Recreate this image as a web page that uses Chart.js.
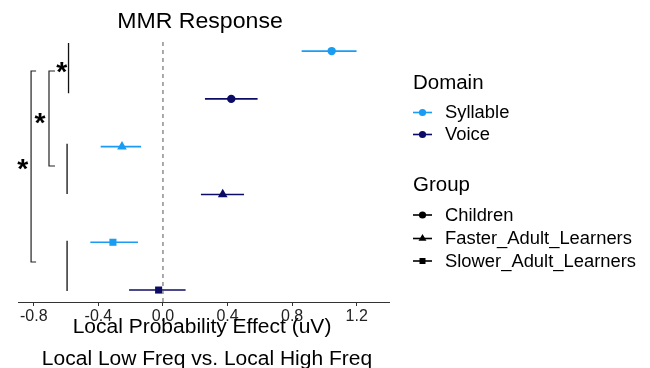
<!DOCTYPE html>
<html>
<head>
<meta charset="utf-8">
<script src="https://cdn.jsdelivr.net/npm/chart.js@4.4.1/dist/chart.umd.min.js"></script>
<style>
  html, body { margin: 0; padding: 0; background: #ffffff; }
  #wrap { width: 650px; height: 368px; position: relative; }
</style>
</head>
<body>
<div id="wrap"><canvas id="c" width="650" height="368"></canvas></div>
<script>
// ---------- data ----------
const groups = ['Children', 'Faster_Adult_Learners', 'Slower_Adult_Learners'];
const domains = ['Syllable', 'Voice'];
const groupShapes = ['circle', 'triangle', 'rect'];

const syllableEst = [1.045, -0.254, -0.310];
const syllableLo  = [0.859, -0.386, -0.450];
const syllableHi  = [1.199, -0.136, -0.155];
const syllableRow = [1, 3, 5];

const voiceEst = [0.423, 0.370, -0.027];
const voiceLo  = [0.260, 0.235, -0.210];
const voiceHi  = [0.586, 0.502, 0.140];
const voiceRow = [2, 4, 6];

const xTicks = [-0.8, -0.4, 0.0, 0.4, 0.8, 1.2];

// group marker lines (x, yFrom, yTo)
const groupLineX    = [-0.585, -0.594, -0.594];
const groupLineFrom = [0.83, 2.94, 4.97];
const groupLineTo   = [1.88, 3.99, 6.02];

// significance brackets (vertical x, tick end x, yFrom, yTo)
const bracketX    = [-0.706, -0.817];
const bracketTipX = [-0.669, -0.786];
const bracketFrom = [1.417, 1.417];
const bracketTo   = [3.404, 5.413];

// stars
const starLabels = ['*', '*', '*'];
const starX = [-0.627, -0.762, -0.869];
const starY = [1.33, 2.41, 3.37];

// ---------- styles ----------
const COL_SYL = '#1a9cf2';
const COL_VOI = '#0c0c66';
const FONT = "'Liberation Sans', Arial, Helvetica, sans-serif";
const STRETCH = 1.05;

const datasets = [];
// zero reference line
datasets.push({
  data: [{x: 0, y: 0.81}, {x: 0, y: 6.25}],
  showLine: true, borderColor: '#555555', borderWidth: 1, borderDash: [4, 4],
  pointRadius: 0, fill: false
});
// error bars
function addErr(lo, hi, row, col) {
  for (let i = 0; i < lo.length; i++) {
    datasets.push({
      data: [{x: lo[i], y: row[i]}, {x: hi[i], y: row[i]}],
      showLine: true, borderColor: col, borderWidth: 1.6, pointRadius: 0, fill: false
    });
  }
}
addErr(syllableLo, syllableHi, syllableRow, COL_SYL);
addErr(voiceLo, voiceHi, voiceRow, COL_VOI);
// group lines
for (let i = 0; i < groupLineX.length; i++) {
  datasets.push({
    data: [{x: groupLineX[i], y: groupLineFrom[i]}, {x: groupLineX[i], y: groupLineTo[i]}],
    showLine: true, borderColor: '#111111', borderWidth: 1.3, pointRadius: 0, fill: false
  });
}
// brackets
for (let i = 0; i < bracketX.length; i++) {
  datasets.push({
    data: [
      {x: bracketTipX[i], y: bracketFrom[i]},
      {x: bracketX[i], y: bracketFrom[i]},
      {x: bracketX[i], y: bracketTo[i]},
      {x: bracketTipX[i], y: bracketTo[i]}
    ],
    showLine: true, borderColor: '#222222', borderWidth: 1.2, pointRadius: 0, fill: false,
    borderJoinStyle: 'miter'
  });
}
// points
const radii = {circle: 4.2, triangle: 5.6, rect: 5};
function addPts(est, row, col) {
  datasets.push({
    data: est.map((v, i) => ({x: v, y: row[i]})),
    showLine: false,
    pointStyle: groupShapes.slice(),
    pointRadius: groupShapes.map(s => radii[s]),
    backgroundColor: col, borderColor: col, borderWidth: 0
  });
}
addPts(syllableEst, syllableRow, COL_SYL);
addPts(voiceEst, voiceRow, COL_VOI);

// ---------- text helpers ----------
function txt(ctx, s, x, y, font, align, base, color) {
  ctx.save();
  ctx.font = font;
  ctx.fillStyle = color || '#000';
  ctx.textAlign = align || 'left';
  ctx.textBaseline = base || 'alphabetic';
  ctx.translate(x, y);
  ctx.scale(STRETCH, 1);
  ctx.fillText(s, 0, 0);
  ctx.restore();
}
function shape(ctx, style, x, y, r, col) {
  ctx.save();
  ctx.fillStyle = col;
  ctx.beginPath();
  if (style === 'circle') {
    ctx.arc(x, y, r, 0, Math.PI * 2);
  } else if (style === 'triangle') {
    ctx.moveTo(x, y - r);
    ctx.lineTo(x + r * 0.866, y + r * 0.5);
    ctx.lineTo(x - r * 0.866, y + r * 0.5);
    ctx.closePath();
  } else {
    ctx.rect(x - r * 0.75, y - r * 0.75, r * 1.5, r * 1.5);
  }
  ctx.fill();
  ctx.restore();
}

const decor = {
  id: 'decor',
  afterDraw(chart) {
    const ctx = chart.ctx;
    const xs = chart.scales.x, ys = chart.scales.y;
    const ca = chart.chartArea;
    // title
    txt(ctx, 'MMR Response', 200, 27.5, '22px ' + FONT, 'center');
    // axis title
    txt(ctx, 'Local Probability Effect (uV)', 202, 333, '20px ' + FONT, 'center');
    txt(ctx, 'Local Low Freq vs. Local High Freq', 207, 365, '20px ' + FONT, 'center');
    // stars
    for (let i = 0; i < starLabels.length; i++) {
      const px = xs.getPixelForValue(starX[i]);
      const py = ys.getPixelForValue(starY[i]);
      txt(ctx, starLabels[i], px, py + 14, 'bold 27px ' + FONT, 'center');
    }
    // legend
    const lx = 413;
    txt(ctx, 'Domain', lx, 88.5, '19.5px ' + FONT, 'left');
    const domCols = [COL_SYL, COL_VOI];
    const domY = [112.5, 134.5];
    for (let i = 0; i < domains.length; i++) {
      ctx.save();
      ctx.strokeStyle = domCols[i]; ctx.lineWidth = 1.6;
      ctx.beginPath(); ctx.moveTo(lx, domY[i]); ctx.lineTo(lx + 19, domY[i]); ctx.stroke();
      ctx.restore();
      shape(ctx, 'circle', lx + 9.5, domY[i], 3.6, domCols[i]);
      txt(ctx, domains[i], 445, domY[i] + 1, '17.5px ' + FONT, 'left', 'middle');
    }
    txt(ctx, 'Group', lx, 190.5, '19.5px ' + FONT, 'left');
    const grpY = [215, 238.5, 261];
    const lr = {circle: 3.6, triangle: 4.6, rect: 4};
    for (let i = 0; i < groups.length; i++) {
      ctx.save();
      ctx.strokeStyle = '#000'; ctx.lineWidth = 1.6;
      ctx.beginPath(); ctx.moveTo(lx, grpY[i]); ctx.lineTo(lx + 19, grpY[i]); ctx.stroke();
      ctx.restore();
      shape(ctx, groupShapes[i], lx + 9.5, grpY[i], lr[groupShapes[i]], '#000');
      txt(ctx, groups[i], 445, grpY[i] + 1, '17.5px ' + FONT, 'left', 'middle');
    }
  }
};

new Chart(document.getElementById('c'), {
  type: 'scatter',
  data: { datasets },
  options: {
    responsive: false,
    animation: false,
    devicePixelRatio: 1,
    layout: { padding: { left: 18, right: 261, top: 42, bottom: 0 } },
    plugins: { legend: { display: false }, tooltip: { enabled: false }, title: { display: false } },
    scales: {
      x: {
        type: 'linear', min: -0.898, max: 1.40,
        afterBuildTicks: s => { s.ticks = xTicks.map(v => ({ value: v })); },
        afterFit: s => { s.height = 66; },
        ticks: {
          font: { size: 16, family: FONT }, color: '#222', padding: 1,
          callback: v => Number(v).toFixed(1)
        },
        grid: { drawOnChartArea: false, drawTicks: true, tickLength: 4, color: '#333', lineWidth: 1 },
        border: { display: true, color: '#333', width: 1 }
      },
      y: { type: 'linear', reverse: true, min: 0.81, max: 6.25, display: false }
    }
  },
  plugins: [decor]
});
</script>
</body>
</html>
